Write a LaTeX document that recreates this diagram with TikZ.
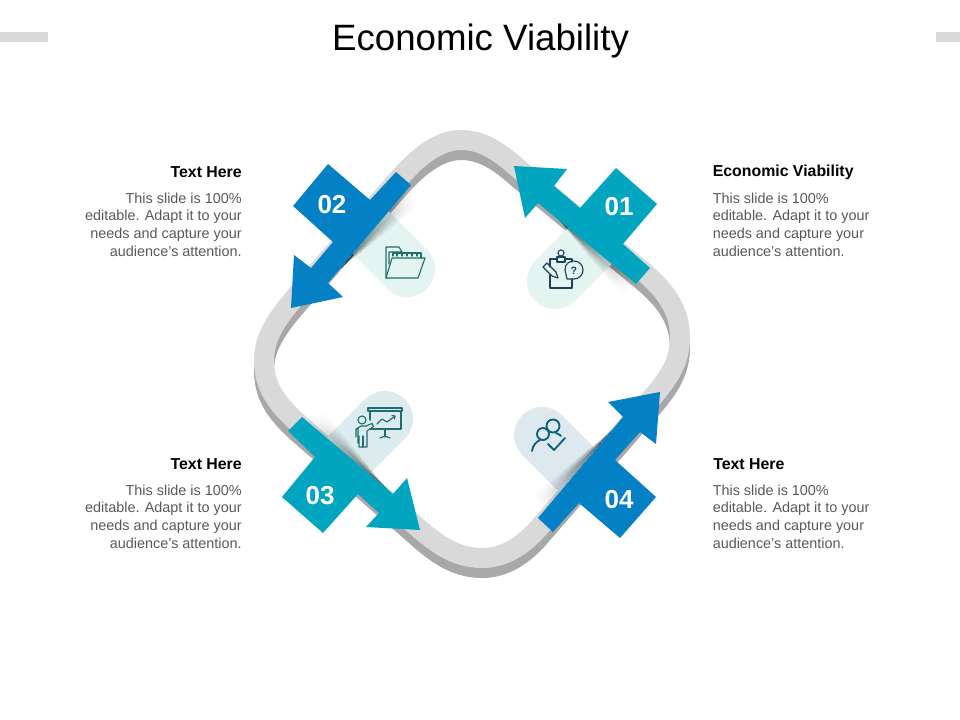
\documentclass[tikz,border=0pt]{standalone}
\usepackage{fontspec}
\setmainfont{Liberation Sans}
\usetikzlibrary{calc}
\definecolor{ringlight}{HTML}{D9D9D9}
\definecolor{ringdark}{HTML}{A8A8A8}
\definecolor{arrowteal}{HTML}{02A5C0}
\definecolor{arrowblue}{HTML}{0480C4}
\definecolor{pillmint}{HTML}{E3F4F1}
\definecolor{pillaqua}{HTML}{DCECEE}
\definecolor{pillblue}{HTML}{DDE9EF}
\definecolor{iconfolder}{HTML}{1F6F68}
\definecolor{iconnavy}{HTML}{1F3F5F}
\definecolor{iconboard}{HTML}{1E6E70}
\definecolor{iconpeople}{HTML}{0F5F7F}
\definecolor{bodygray}{HTML}{595959}
\tikzset{
  x=0.75pt,y=-0.75pt,
  ringband/.style={line width=15pt,line join=round},
  pill/.style={line width=42pt,line cap=butt},
  arrowshape/.style={line join=miter},
  numlabel/.style={text=white,font=\fontsize{19.5}{22}\selectfont\bfseries,inner sep=0pt},
  headlabel/.style={text=black,font=\fontsize{11.9}{14}\selectfont\bfseries,inner sep=0pt},
  bodyright/.style={text=bodygray,font=\fontsize{10.8}{13.3}\selectfont,align=right,inner sep=0pt,anchor=north east},
  bodyleft/.style={text=bodygray,font=\fontsize{10.8}{13.3}\selectfont,align=left,inner sep=0pt,anchor=north west},
  iconline/.style={line width=0.85pt,line join=round,line cap=round},
}
\newcommand{\ringpath}{(401,176) .. controls (420,155) and (440,140) .. (461,140)
  .. controls (485,140) and (503,155) .. (520,170) -- (645,273)
  .. controls (668,293) and (680,312) .. (680,338)
  .. controls (680,360) and (670,376) .. (656,393) -- (543,523)
  .. controls (525,545) and (505,558) .. (482,558)
  .. controls (455,558) and (435,543) .. (415,525) -- (297,422)
  .. controls (275,402) and (264,385) .. (264,360)
  .. controls (264,335) and (280,315) .. (297,295) -- cycle}
\newcommand{\shadowfan}[3]{%
  \foreach \j in {0.4,0.55,0.7,0.85,1}{%
    \foreach \s in {0.2,0.235,...,1.01}{%
      \fill[black,opacity=0.004] #1 -- ($#1!\s!#2$) -- ($#1!\s!($#2!\j!#3$)$) -- cycle;
    }%
  }%
}
\begin{document}
\begin{tikzpicture}
\useasboundingbox (0,0) rectangle (960,720);
\fill[white] (0,0) rectangle (960,720);
% header bars
\fill[ringlight] (0,32) rectangle (48,42);
\fill[ringlight] (936,32) rectangle (960,42);
\node[font=\fontsize{27.5}{30}\selectfont,text=black,inner sep=0pt] (title) at (480.5,41) {Economic Viability};
% ring
\draw[ringdark,ringband] [shift={(0,10)}] \ringpath;
\draw[ringdark,ringband] [shift={(0,5)}] \ringpath;
\draw[ringlight,ringband] \ringpath;
% pills
\fill[pillmint] (555,281) circle (28);
\draw[pillmint,pill] (555,281) -- (592,244);
\fill[pillmint] (407,269) circle (28);
\draw[pillmint,pill] (407,269) -- (369,231);
\fill[pillaqua] (385,419) circle (28);
\draw[pillaqua,pill] (385,419) -- (346,458);
\fill[pillblue] (542,435) circle (28);
\draw[pillblue,pill] (542,435) -- (580,473);
% folder icon
\begin{scope}[iconline,draw=iconfolder]
\draw (386,278) -- (386,247) -- (399,247) -- (402,252) -- (389,252) -- (389,264);
\draw (393,256) -- (393,253) -- (421,253) -- (421,258);
\foreach \tx in {397,402,407,412,417}{\draw (\tx,253) -- (\tx,256);}
\draw (386,278) -- (392,258) -- (425,258) -- (418,278) -- cycle;
\end{scope}
% clipboard icon
\begin{scope}[iconline,draw=iconnavy]
\draw (550,267) -- (550,259) -- (557,259);
\draw (565,259) -- (572,259) -- (572,262);
\draw (550,275) -- (550,288) -- (572,288) -- (572,279);
\draw (557,257) rectangle (565,262);
\draw (561,253) circle (3);
\draw (543,267) -- (547,263) -- (556,272) -- (558,278) -- (552,276) -- cycle;
\draw (567,279) -- (565,270) .. controls (565,264) and (569,261) .. (574,261)
  .. controls (579,261) and (583,265) .. (583,270)
  .. controls (583,275) and (579,279) .. (574,279) -- cycle;
\end{scope}
\node[text=iconnavy,font=\fontsize{8}{9}\selectfont\bfseries,inner sep=0pt] (qmark) at (574,270.5) {?};
% presentation icon
\begin{scope}[iconline,draw=iconboard]
\draw (368,408) rectangle (402,411);
\draw (370,420) -- (370,411);
\draw (401,411) -- (401,429) -- (370,429);
\draw (385,429) -- (385,437);
\draw (380,438) -- (385,436) -- (390,438);
\draw (377,424) -- (382,419) -- (387,422) -- (395,416);
\draw (392,415.5) -- (395,416) -- (394.5,419);
\draw (362,420) circle (4);
\draw (358,443) -- (358,428) -- (361,426) -- (366,426) -- (372,423.5) -- (373.5,426.5) -- (367,431) -- (367,447) -- (359,447) -- (359,436);
\draw (363,447) -- (363,436);
\draw (356,437) -- (356,429) -- (358,428);
\end{scope}
% people icon
\begin{scope}[line width=1.4pt,line cap=round,line join=round,draw=iconpeople]
\draw (553,426) circle (6.5);
\draw (543,434) circle (6);
\draw (532,451) .. controls (533,445) and (536,442) .. (540,440);
\draw (556,433) .. controls (559,434) and (561,436) .. (561,436);
\draw (548,444) -- (554,450) -- (565,438);
\end{scope}
% soft shadows
\shadowfan{(340,269)}{(405,192)}{(420,205)}
\shadowfan{(558,219)}{(634,282)}{(622,296)}
\shadowfan{(388,490)}{(310,424)}{(322,410)}
\shadowfan{(612,430)}{(546,508)}{(532,496)}
% arrows
\fill[arrowteal,arrowshape] (650,268) -- (623,244) -- (657,204) -- (616,168) -- (580,208) -- (554,186) -- (567,169) -- (514,166) -- (525,218) -- (538,203) -- (636,284) -- cycle;
\fill[arrowblue,arrowshape] (396,172) -- (370,200) -- (328,164) -- (293,206) -- (333,242) -- (311,268) -- (294,255) -- (291,308) -- (343,297) -- (328,283) -- (411,185) -- cycle;
\fill[arrowteal,arrowshape] (302,417) -- (288,431) -- (315,457) -- (282,497) -- (323,533) -- (358,494) -- (379,513) -- (366,527) -- (420,530) -- (407,478) -- (393,494) -- cycle;
\fill[arrowblue,arrowshape] (538,518) -- (553,532) -- (579,503) -- (620,538) -- (656,497) -- (615,460) -- (640,432) -- (656,444) -- (660,392) -- (608,402) -- (623,417) -- cycle;
% numbers
\node[numlabel] (n01) at (619,207) {01};
\node[numlabel] (n02) at (332,204.5) {02};
\node[numlabel] (n03) at (320,495.5) {03};
\node[numlabel] (n04) at (619,500) {04};
% text blocks
\node[headlabel,anchor=east] (h02) at (242,172) {Text Here};
\node[bodyright] (b02) at (242,192.5) {This slide is 100\%\\editable. Adapt it to your\\needs and capture your\\audience's attention.};
\node[headlabel,anchor=west] (h01) at (712.5,172) {Economic Viability};
\node[bodyleft] (b01) at (712.5,192.5) {This slide is 100\%\\editable. Adapt it to your\\needs and capture your\\audience's attention.};
\node[headlabel,anchor=east] (h03) at (242,464) {Text Here};
\node[bodyright] (b03) at (242,484.5) {This slide is 100\%\\editable. Adapt it to your\\needs and capture your\\audience's attention.};
\node[headlabel,anchor=west] (h04) at (713,464) {Text Here};
\node[bodyleft] (b04) at (712.5,484.5) {This slide is 100\%\\editable. Adapt it to your\\needs and capture your\\audience's attention.};
\end{tikzpicture}
\end{document}
